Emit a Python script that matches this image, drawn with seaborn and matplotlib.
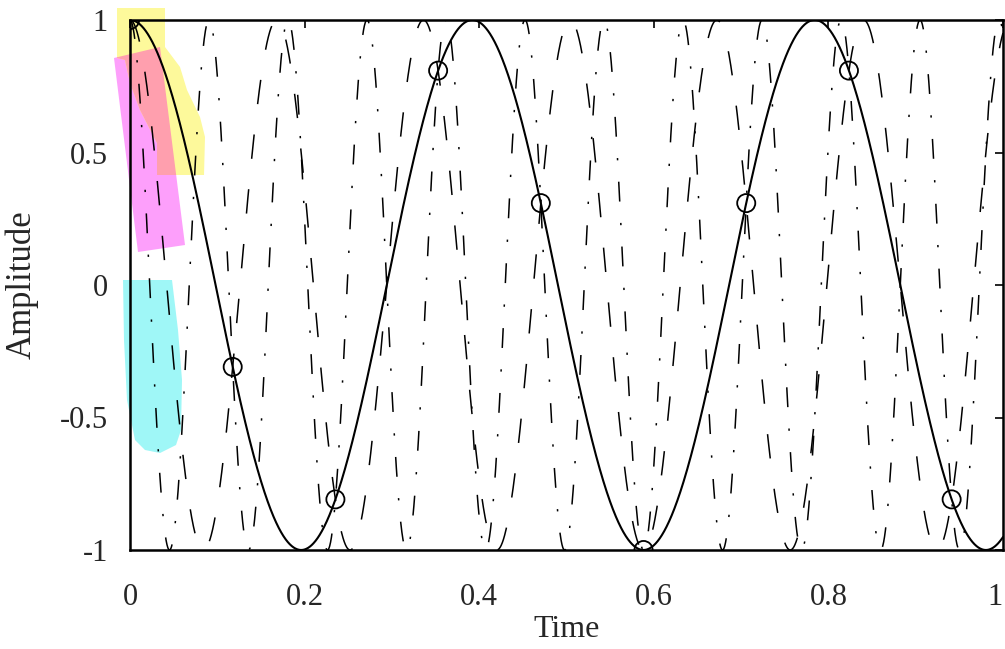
import numpy as np
import pandas as pd
import matplotlib
matplotlib.use("Agg")
import matplotlib.pyplot as plt
import seaborn as sns
from matplotlib.patches import Polygon

# ---- data ----
f_signal = 2.55                      # Hz, solid cosine
f_sample = 8.5                       # Hz, sampling rate (circles)
f_alias_dashed = f_sample - f_signal  # dashed cosine
f_alias_dashdot = f_sample + f_signal # dash-dot cosine
sample_index = [0, 1, 2, 3, 4, 5, 6, 7, 8]
x_ticks = [0, 0.2, 0.4, 0.6, 0.8, 1]
x_tick_labels = ["0", "0.2", "0.4", "0.6", "0.8", "1"]
y_ticks = [-1, -0.5, 0, 0.5, 1]
y_tick_labels = ["-1", "-0.5", "0", "0.5", "1"]
x_label = "Time"
y_label = "Amplitude"

# ---- figure ----
sns.set_style("white")
plt.rcParams["font.family"] = ["Liberation Serif", "DejaVu Serif"]

W, H = 1005, 649
fig = plt.figure(figsize=(W / 100, H / 100), dpi=100)
ax = fig.add_axes([130 / W, 1 - 550 / H, (1003 - 130) / W, (550 - 20) / H])
ax.set_facecolor("none")

t = np.linspace(0, 1, 3000)
curves = pd.DataFrame({
    "t": t,
    "solid": np.cos(2 * np.pi * f_signal * t),
    "dashed": np.cos(2 * np.pi * f_alias_dashed * t),
    "dashdot": np.cos(2 * np.pi * f_alias_dashdot * t),
})
ts = np.array(sample_index) / f_sample
samples = pd.DataFrame({"t": ts, "x": np.cos(2 * np.pi * f_signal * ts)})

sns.lineplot(data=curves, x="t", y="dashdot", ax=ax, color="black",
             linewidth=1.1, linestyle=(0, (13, 14, 1.5, 14)), sort=False)
sns.lineplot(data=curves, x="t", y="dashed", ax=ax, color="black",
             linewidth=1.1, linestyle=(0, (16, 20)), sort=False)
sns.lineplot(data=curves, x="t", y="solid", ax=ax, color="black",
             linewidth=1.5, sort=False)
sns.scatterplot(data=samples, x="t", y="x", ax=ax, marker="o", s=170,
                facecolors="none", edgecolors="black", linewidth=1.3, zorder=5)

ax.set_xlim(0, 1)
ax.set_ylim(-1, 1)
ax.set_xticks(x_ticks)
ax.set_xticklabels(x_tick_labels)
ax.set_yticks(y_ticks)
ax.set_yticklabels(y_tick_labels)
ax.tick_params(axis="both", direction="in", length=6, width=1.2,
               top=True, right=True, labelsize=22, color="black")
ax.tick_params(axis="x", pad=24)
ax.tick_params(axis="y", pad=16)
ax.get_xticklabels()[-1].set_horizontalalignment("right")
ax.set_xlabel(x_label, fontsize=23, labelpad=2)
ax.set_ylabel(y_label, fontsize=25, labelpad=15)
for s in ax.spines.values():
    s.set_color("black")
    s.set_linewidth(1.8)

# ---- highlighter marks (figure pixel coordinates) ----
def figpoly(pts, color, clip=None):
    xy = [(x / W, 1 - y / H) for x, y in pts]
    p = Polygon(xy, closed=True, transform=fig.transFigure, facecolor=color,
                edgecolor="none", zorder=-1)
    fig.add_artist(p)
    if clip is not None:
        p.set_clip_path(clip)
    return p

magenta_pts = [(114, 58), (160, 47), (185, 245), (138, 252)]
yellow_pts = [(117, 8), (165, 8), (165, 47), (180, 67), (187, 90), (200, 117),
              (205, 137), (204, 175), (157, 175), (157, 143), (140, 110),
              (130, 83), (125, 60), (117, 58)]
cyan_pts = [(123, 280), (172, 280), (178, 330), (182, 380), (181, 430),
            (176, 445), (160, 453), (145, 450), (135, 440), (127, 400), (124, 340)]

mag = figpoly(magenta_pts, "#fd9ffb")
figpoly(yellow_pts, "#fdf99b")
figpoly(yellow_pts, "#ff9fae", clip=mag)
figpoly(cyan_pts, "#9ff7f7")

fig.savefig("out.png", dpi=100)
